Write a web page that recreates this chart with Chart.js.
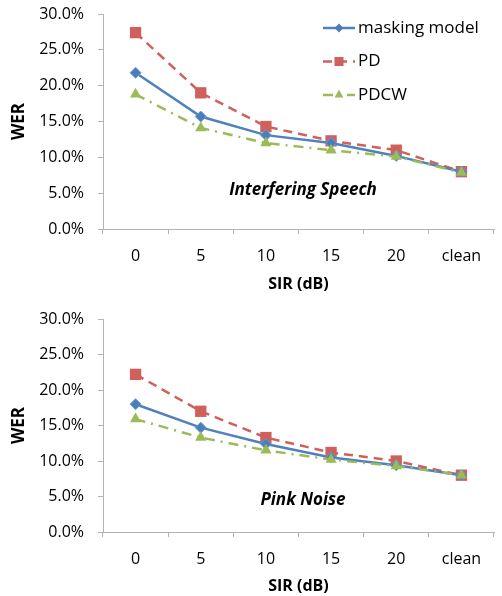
<!DOCTYPE html>
<html>
<head>
<meta charset="utf-8">
<script src="https://cdn.jsdelivr.net/npm/chart.js@4.4.1/dist/chart.umd.min.js"></script>
<style>
  html, body { margin: 0; padding: 0; background: #fff; overflow: hidden; }
  .box { position: absolute; left: 0; width: 502px; height: 298px; }
  #top { top: 0; }
  #bottom { top: 298px; }
</style>
</head>
<body>
<div class="box" id="top"><canvas id="speechChart"></canvas></div>
<div class="box" id="bottom"><canvas id="pinkChart"></canvas></div>
<script>
// ========================================
// DATA (WER in %)
// ========================================
const categories = ['0', '5', '10', '15', '20', 'clean'];
const seriesNames = ['masking model', 'PD', 'PDCW'];

const speechMasking = [21.8, 15.7, 13.1, 12.0, 10.2, 8.0];
const speechPD      = [27.4, 19.0, 14.3, 12.3, 11.0, 8.0];
const speechPDCW    = [18.8, 14.1, 12.0, 11.0, 10.1, 7.9];

const pinkMasking = [18.0, 14.7, 12.4, 10.5, 9.4, 8.0];
const pinkPD      = [22.2, 17.0, 13.3, 11.2, 10.0, 8.0];
const pinkPDCW    = [15.9, 13.3, 11.5, 10.2, 9.3, 8.0];

const yTickValues = [0, 5, 10, 15, 20, 25, 30];

// ========================================
// STYLES
// ========================================
const FONT = "'Open Sans', 'Liberation Sans', sans-serif";
const AXIS_COLOR = '#b3b3b3';

function makeDatasets(masking, pd, pdcw) {
    return [
        {
            label: seriesNames[0], data: masking,
            borderColor: '#4F81BD', backgroundColor: '#4A7EBB',
            borderWidth: 2.5, pointStyle: 'rectRot', pointRadius: 5.5,
            pointBorderWidth: 1, pointBorderColor: '#6f9ad0', order: 1
        },
        {
            label: seriesNames[1], data: pd,
            borderColor: '#D0605C', backgroundColor: '#D0605C',
            borderWidth: 2.5, borderDash: [9, 6], pointStyle: 'rect', pointRadius: 8,
            pointBorderWidth: 0, order: 2
        },
        {
            label: seriesNames[2], data: pdcw,
            borderColor: '#9BBB59', backgroundColor: '#9BBB59',
            borderWidth: 2.5, borderDash: [10, 6, 2, 6], pointStyle: 'triangle', pointRadius: 6.5,
            pointBorderWidth: 0, order: 0
        }
    ];
}

// ========================================
// PLUGINS: legend + annotation text
// ========================================
const sideLegend = {
    id: 'sideLegend',
    afterDraw(chart, args, opts) {
        if (!opts.show) return;
        const ctx = chart.ctx;
        ctx.save();
        chart.data.datasets.forEach((ds, i) => {
            const y = opts.y + i * opts.step;
            ctx.strokeStyle = ds.borderColor;
            ctx.lineWidth = ds.borderWidth;
            ctx.setLineDash(ds.borderDash || []);
            ctx.beginPath();
            ctx.moveTo(opts.x, y);
            ctx.lineTo(opts.x + 32, y);
            ctx.stroke();
            ctx.setLineDash([]);
            ctx.fillStyle = ds.backgroundColor;
            Chart.helpers.drawPoint(ctx, {
                pointStyle: ds.pointStyle,
                radius: ds.pointRadius * 0.8,
                borderWidth: 0
            }, opts.x + 16, y);
            ctx.fillStyle = '#000';
            ctx.font = '17px ' + FONT;
            ctx.textBaseline = 'middle';
            ctx.textAlign = 'left';
            ctx.fillText(ds.label, opts.x + 35, y);
        });
        ctx.restore();
    }
};

const noteText = {
    id: 'noteText',
    afterDraw(chart, args, opts) {
        const ctx = chart.ctx;
        ctx.save();
        ctx.fillStyle = '#000';
        ctx.font = 'italic bold 17px ' + FONT;
        ctx.textAlign = 'center';
        ctx.textBaseline = 'middle';
        ctx.fillText(opts.text, opts.x, opts.y);
        ctx.restore();
    }
};

// ========================================
// BUILD CHART
// ========================================
function buildChart(canvasId, datasets, cfg) {
    const ctx = document.getElementById(canvasId).getContext('2d');
    return new Chart(ctx, {
        type: 'line',
        data: { labels: categories, datasets: datasets },
        options: {
            responsive: true,
            maintainAspectRatio: false,
            animation: false,
            layout: { padding: { top: cfg.padTop, right: 0, left: 0, bottom: 0 } },
            plugins: {
                legend: { display: false },
                tooltip: { enabled: false },
                sideLegend: cfg.legend,
                noteText: cfg.note
            },
            scales: {
                x: {
                    offset: true,
                    afterFit: function(scale) {
                        scale.height = cfg.xHeight;
                        scale.paddingLeft = 0;
                        scale.paddingRight = 0;
                    },
                    grid: { drawOnChartArea: false, drawTicks: true, tickLength: 5, color: AXIS_COLOR, offset: true },
                    border: { color: AXIS_COLOR, width: 1 },
                    ticks: { color: '#000', font: { family: FONT, size: 16 }, padding: 13, maxRotation: 0 },
                    title: {
                        display: true, text: 'SIR (dB)', color: '#000',
                        font: { family: FONT, size: 16, weight: 'bold' },
                        padding: { top: 0, bottom: cfg.xTitlePad }
                    }
                },
                y: {
                    min: 0, max: 30,
                    afterFit: function(scale) {
                        scale.width = 103;
                        scale.paddingTop = 0;
                        scale.paddingBottom = 0;
                    },
                    afterBuildTicks: function(scale) { scale.ticks = yTickValues.map(v => ({ value: v })); },
                    grid: { drawOnChartArea: false, drawTicks: true, tickLength: 5, color: AXIS_COLOR },
                    border: { color: AXIS_COLOR, width: 1 },
                    ticks: {
                        color: '#000', font: { family: FONT, size: 16 }, padding: 14,
                        callback: function(value) { return value.toFixed(1) + '%'; }
                    },
                    title: {
                        display: true, text: 'WER', color: '#000',
                        font: { family: FONT, size: 17, weight: 'bold' },
                        padding: { top: 9, bottom: 0 }
                    }
                }
            }
        },
        plugins: [sideLegend, noteText]
    });
}

buildChart('speechChart', makeDatasets(speechMasking, speechPD, speechPDCW), {
    padTop: 14, xHeight: 69, xTitlePad: 4,
    legend: { show: true, x: 323, y: 28, step: 33.5 },
    note: { text: 'Interfering Speech', x: 303, y: 190 }
});

buildChart('pinkChart', makeDatasets(pinkMasking, pinkPD, pinkPDCW), {
    padTop: 21, xHeight: 64, xTitlePad: 0,
    legend: { show: false },
    note: { text: 'Pink Noise', x: 303, y: 202 }
});
</script>
</body>
</html>
